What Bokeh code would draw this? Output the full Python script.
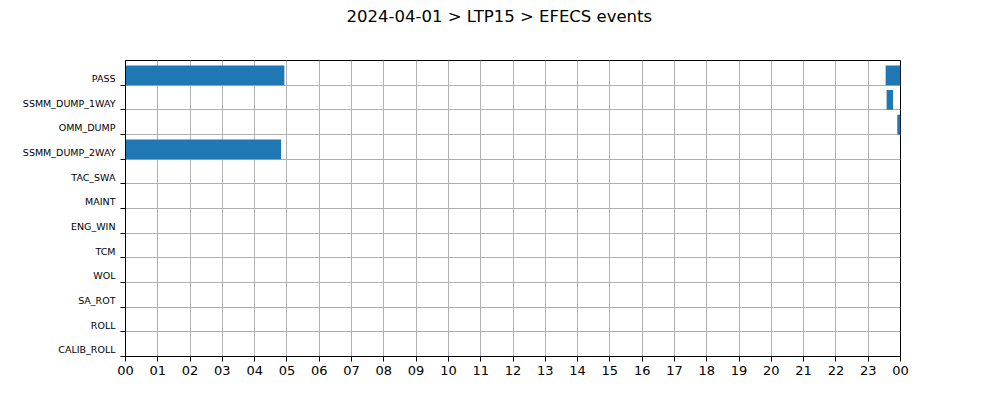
from bokeh.plotting import figure
from bokeh.models import Range1d, FixedTicker, ColumnDataSource, Title
from bokeh.embed import file_html
from bokeh.resources import INLINE

# ---- data ----
categories = ["PASS", "SSMM_DUMP_1WAY", "OMM_DUMP", "SSMM_DUMP_2WAY", "TAC_SWA", "MAINT",
              "ENG_WIN", "TCM", "WOL", "SA_ROT", "ROLL", "CALIB_ROLL"]
event_cat = ["PASS", "PASS", "SSMM_DUMP_1WAY", "OMM_DUMP", "SSMM_DUMP_2WAY"]
event_start = [0.0, 23.54, 23.57, 23.90, 0.0]    # hours
event_end = [4.92, 24.0, 23.77, 24.0, 4.82]      # hours
hour_ticks = list(range(25))
hour_labels = [f"{h % 24:02d}" for h in hour_ticks]
title_text = "2024-04-01 > LTP15 > EFECS events"

FONT = "DejaVu Sans"
n = len(categories)
row_of = {c: n - 1 - i for i, c in enumerate(categories)}

bottoms = [row_of[c] for c in event_cat]
tops = [b + 0.8 for b in bottoms]
src = ColumnDataSource(dict(left=event_start, right=event_end, bottom=bottoms, top=tops))

W, H = 990, 392
FL, FR, FT, FB = 125, 900, 60, 356
p = figure(width=W, height=H, output_backend="svg", toolbar_location=None,
           x_range=Range1d(0, 24), y_range=Range1d(0, n),
           min_border_left=FL, min_border_right=W - FR, min_border_top=FT,
           min_border_bottom=H - FB)

p.quad(left="left", right="right", bottom="bottom", top="top", source=src,
       fill_color="#1f77b4", line_color=None)

spacer = Title(text=" ", text_font_size="30px", standoff=0)
p.add_layout(spacer, "above")
main_title = Title(text=title_text, text_font=FONT, text_font_size="16.5px",
                   text_font_style="normal", text_color="black", align="left",
                   offset=346 - FL, standoff=0)
p.add_layout(main_title, "above")

p.outline_line_color = "black"
p.outline_line_width = 1
p.outline_line_alpha = 1
p.background_fill_color = "white"
p.border_fill_color = "white"

# x axis
xa = p.xaxis[0]
xa.ticker = FixedTicker(ticks=hour_ticks)
xa.major_label_overrides = {t: l for t, l in zip(hour_ticks, hour_labels)}
xa.major_label_text_font = FONT
xa.major_label_text_font_size = "13px"
xa.major_label_text_color = "black"
xa.axis_line_color = "black"
xa.major_tick_line_color = "black"
xa.major_tick_out = 5
xa.major_tick_in = 0
xa.minor_tick_line_color = None
xa.major_label_standoff = 4

# y axis
ya = p.yaxis[0]
yticks = list(range(n))
ya.ticker = FixedTicker(ticks=yticks)
ya.major_label_overrides = {row_of[c]: c + "\n " for c in categories}
ya.major_label_text_font = FONT
ya.major_label_text_font_size = "9.5px"
ya.major_label_text_color = "black"
ya.axis_line_color = "black"
ya.major_tick_line_color = "black"
ya.major_tick_out = 5
ya.major_tick_in = 0
ya.minor_tick_line_color = None
ya.major_label_standoff = 5

for g in (p.xgrid[0], p.ygrid[0]):
    g.grid_line_color = "#b0b0b0"
    g.grid_line_width = 1
    g.grid_line_alpha = 1
p.xgrid[0].ticker = FixedTicker(ticks=hour_ticks)
p.ygrid[0].ticker = FixedTicker(ticks=yticks)

open("out.html", "w").write(file_html(p, INLINE))
